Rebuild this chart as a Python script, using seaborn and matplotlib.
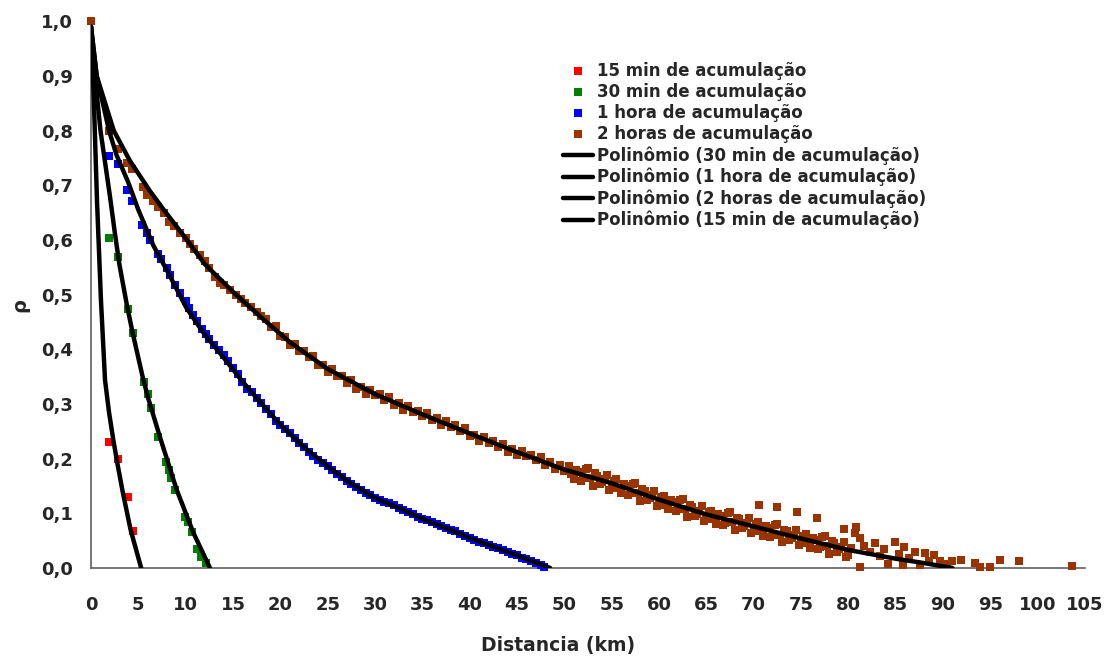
import numpy as np
import pandas as pd
import seaborn as sns
import matplotlib
matplotlib.use("Agg")
import matplotlib.pyplot as plt
from matplotlib.ticker import FuncFormatter
from matplotlib.lines import Line2D

# ---------------- data ----------------
x_15min = [0.0, 1.85, 2.8, 3.95, 4.4]
y_15min = [1.0, 0.231, 0.199, 0.129, 0.067]

x_30min = [0.0, 1.9, 2.8, 3.9, 4.4, 5.6, 6.05, 6.3, 7.1, 7.9, 8.2, 8.5, 8.9,
           9.9, 10.2, 10.7, 11.2, 11.6, 12.1]
y_30min = [1.0, 0.603, 0.569, 0.474, 0.430, 0.341, 0.319, 0.292, 0.240, 0.194,
           0.179, 0.164, 0.143, 0.094, 0.085, 0.065, 0.034, 0.021, 0.009]

x_1h = [0.0, 1.9, 2.8, 3.8, 4.3, 5.4, 5.9, 6.2, 7.1, 7.4, 8.0, 8.3, 8.9, 9.4,
        10.0, 10.4, 10.8, 11.2, 11.7, 12.1, 12.5, 13.0,
        13.5, 14.0, 14.5, 15.0, 15.5, 16.0, 16.5, 17.0, 17.5, 18.0, 18.5, 19.0,
        19.5, 20.0, 20.5, 21.0, 21.5, 22.0, 22.5, 23.0, 23.5, 24.0, 24.5, 25.0,
        25.5, 26.0, 26.5, 27.0, 27.5, 28.0, 28.5, 29.0, 29.5, 30.0, 30.5, 31.0,
        31.5, 32.0, 32.5, 33.0, 33.5, 34.0, 34.5, 35.0, 35.5, 36.0, 36.5, 37.0,
        37.5, 38.0, 38.5, 39.0, 39.5, 40.0, 40.5, 41.0, 41.5, 42.0, 42.5, 43.0,
        43.5, 44.0, 44.5, 45.0, 45.5, 46.0, 46.5, 47.0, 47.5, 47.9]
y_1h = [1.0, 0.754, 0.738, 0.691, 0.672, 0.628, 0.612, 0.600, 0.574, 0.566,
        0.549, 0.536, 0.518, 0.503, 0.488, 0.476, 0.462, 0.452, 0.437, 0.428,
        0.418, 0.408,
        0.398, 0.389, 0.378, 0.366, 0.354, 0.341, 0.328, 0.321, 0.311, 0.301,
        0.291, 0.281, 0.269, 0.262, 0.255, 0.246, 0.238, 0.229, 0.221, 0.212,
        0.205, 0.198, 0.192, 0.186, 0.179, 0.172, 0.167, 0.160, 0.154, 0.148,
        0.142, 0.137, 0.133, 0.128, 0.125, 0.121, 0.119, 0.115, 0.110, 0.106,
        0.102, 0.098, 0.094, 0.090, 0.087, 0.084, 0.081, 0.077, 0.073, 0.070,
        0.067, 0.063, 0.059, 0.055, 0.052, 0.048, 0.045, 0.042, 0.039, 0.036,
        0.033, 0.029, 0.026, 0.023, 0.019, 0.016, 0.013, 0.010, 0.006, 0.002]

x_2h = [0.0, 1.9, 2.8, 3.8, 4.3, 5.45, 5.9, 6.6, 7.1, 7.7, 8.2, 8.8, 9.4, 10.0,
        10.5, 10.9, 11.5, 12.0, 12.5, 13.1, 13.6, 14.1, 14.7, 15.3, 15.8, 16.3,
        16.9, 17.5, 18.0,
        18.5, 19.0, 19.5, 20.0, 20.5, 21.0, 21.5, 22.0, 22.5, 23.0, 23.5, 24.0,
        24.5, 25.0, 25.5, 26.0, 26.5, 27.0, 27.5, 28.0, 28.5, 29.0, 29.5, 30.0,
        30.5, 31.0, 31.5, 32.0, 32.5, 33.0, 33.5, 34.0, 34.5, 35.0, 35.5, 36.0,
        36.5, 37.0, 37.5, 38.0, 38.5, 39.0, 39.5, 40.0, 40.5, 41.0, 41.5, 42.0,
        42.5, 43.0, 43.5, 44.0, 44.5, 45.0, 45.5, 46.0, 46.5, 47.0, 47.5, 48.0,
        48.5, 49.0, 49.5, 50.0,
        50.5, 51.0, 51.5, 52.0, 52.5, 53.0, 53.5, 54.0, 54.5, 55.0, 55.5, 56.0,
        56.5, 57.0, 57.5, 58.0, 58.5, 59.0, 59.5, 60.0, 60.5, 61.0, 61.5, 62.0,
        62.5, 63.0, 63.5, 64.0, 64.5, 65.0, 65.5, 66.0, 66.5, 67.0, 67.5, 68.0,
        68.5, 69.0, 69.5, 70.0, 70.5, 71.0, 71.5, 72.0, 72.5, 73.0, 73.5, 74.0,
        74.5, 75.0, 75.5, 76.0, 76.5, 77.0, 77.5, 78.0, 78.5, 79.0, 79.5, 80.0,
        50.75, 51.25, 51.75, 52.25, 52.75, 53.25, 53.75, 54.25, 54.75, 55.25,
        55.75, 56.25, 56.75, 57.25, 57.75, 58.25, 58.75, 59.25, 59.75, 60.25,
        60.75, 61.25, 61.75, 62.25, 62.75, 63.25, 63.75, 64.25, 64.75, 65.25,
        65.75, 66.25, 66.75, 67.25, 67.75, 68.25, 68.75, 69.25, 69.75, 70.25,
        70.75, 71.25, 71.75, 72.25, 72.75, 73.25, 73.75, 74.25, 74.75, 75.25,
        75.75, 76.25, 76.75, 77.25, 77.75, 78.25, 78.75, 79.25, 79.75, 80.25,
        70.6, 72.5, 74.6, 76.7, 80.8, 79.5, 81.2, 80.7,
        81.2, 81.7, 82.3, 82.8, 83.3, 83.8, 84.2, 84.9, 85.3, 85.8, 85.9, 86.4,
        87.0, 87.6, 88.1, 88.5, 89.0, 89.7, 90.4, 90.9, 91.9, 93.4, 93.9, 95.0,
        96.0, 98.0, 103.6]
y_2h = [1.000, 0.800, 0.767, 0.740, 0.729, 0.697, 0.683, 0.672, 0.661, 0.650,
        0.633, 0.625, 0.613, 0.603, 0.592, 0.584, 0.572, 0.561, 0.548, 0.533,
        0.521, 0.517, 0.508, 0.500, 0.492, 0.485, 0.477, 0.469, 0.460,
        0.456, 0.441, 0.443, 0.425, 0.423, 0.407, 0.410, 0.397, 0.397, 0.385,
        0.388, 0.371, 0.372, 0.358, 0.364, 0.351, 0.351, 0.339, 0.343, 0.328,
        0.331, 0.319, 0.326, 0.316, 0.318, 0.307, 0.313, 0.298, 0.301, 0.289,
        0.296, 0.285, 0.288, 0.278, 0.284, 0.270, 0.274, 0.262, 0.269, 0.258,
        0.261, 0.250, 0.256, 0.241, 0.244, 0.233, 0.240, 0.229, 0.232, 0.221,
        0.227, 0.213, 0.217, 0.206, 0.214, 0.204, 0.207, 0.197, 0.203, 0.189,
        0.193, 0.181, 0.189, 0.178,
        0.187, 0.163, 0.176, 0.164, 0.183, 0.150, 0.169, 0.157, 0.170, 0.146,
        0.162, 0.137, 0.150, 0.137, 0.156, 0.122, 0.141, 0.128, 0.141, 0.116,
        0.132, 0.107, 0.120, 0.107, 0.126, 0.093, 0.112, 0.099, 0.113, 0.089,
        0.105, 0.081, 0.095, 0.083, 0.103, 0.069, 0.089, 0.077, 0.091, 0.067,
        0.084, 0.059, 0.073, 0.061, 0.080, 0.047, 0.067, 0.055, 0.069, 0.045,
        0.062, 0.037, 0.051, 0.039, 0.059, 0.026, 0.046, 0.034, 0.048, 0.024,
        0.171, 0.180, 0.160, 0.181, 0.164, 0.173, 0.153, 0.162, 0.143, 0.159,
        0.146, 0.154, 0.134, 0.154, 0.137, 0.145, 0.125, 0.133, 0.114, 0.129,
        0.116, 0.124, 0.104, 0.124, 0.107, 0.116, 0.096, 0.104, 0.086, 0.102,
        0.089, 0.098, 0.079, 0.100, 0.084, 0.092, 0.073, 0.082, 0.064, 0.080,
        0.068, 0.076, 0.057, 0.078, 0.061, 0.070, 0.051, 0.060, 0.042, 0.058,
        0.046, 0.054, 0.035, 0.056, 0.040, 0.049, 0.030, 0.039, 0.021, 0.037,
        0.115, 0.111, 0.102, 0.091, 0.075, 0.072, 0.002, 0.064,
        0.054, 0.040, 0.030, 0.045, 0.022, 0.035, 0.008, 0.048, 0.025, 0.006,
        0.039, 0.018, 0.030, 0.006, 0.027, 0.012, 0.024, 0.012, 0.008, 0.012,
        0.015, 0.009, 0.002, 0.002, 0.015, 0.012, 0.004]

# polynomial trend lines as drawn in the reference
tx_15min = [0.0, 0.3, 0.63, 1.05, 1.48, 1.9, 2.35, 2.8, 3.34, 4.18, 5.3]
ty_15min = [0.99, 0.856, 0.673, 0.49, 0.344, 0.285, 0.235, 0.19, 0.14, 0.07, 0.0]

tx_30min = [0.0, 0.5, 1.0, 2.0, 2.5, 3.0, 3.8, 4.4, 5.45, 6.05, 7.29, 9.05,
            10.8, 12.57]
ty_30min = [0.99, 0.885, 0.80, 0.68, 0.615, 0.555, 0.48, 0.43, 0.35, 0.31,
            0.239, 0.143, 0.065, 0.0]

tx_1h = [0.0, 0.6, 1.9, 2.7, 3.94, 5.0, 6.58, 8.0, 10.1, 12.0, 14.0, 16.0,
         18.0, 20.0, 22.5, 25.0, 27.5, 30.0, 32.5, 35.0, 37.5, 40.0, 42.5,
         45.0, 47.0, 48.5]
ty_1h = [0.99, 0.90, 0.80, 0.755, 0.705, 0.655, 0.59, 0.545, 0.475, 0.427,
         0.385, 0.341, 0.301, 0.262, 0.221, 0.186, 0.154, 0.128, 0.11, 0.09,
         0.073, 0.055, 0.039, 0.023, 0.01, 0.0]

tx_2h = [0.0, 0.6, 2.4, 4.1, 6.2, 7.6, 10.0, 12.0, 15.0, 18.0, 21.0, 25.0,
         30.0, 35.0, 40.0, 45.0, 50.0, 55.0, 60.0, 65.0, 70.0, 75.0, 80.0,
         85.0, 88.0, 91.0]
ty_2h = [0.99, 0.90, 0.80, 0.745, 0.69, 0.657, 0.603, 0.556, 0.505, 0.458,
         0.413, 0.364, 0.318, 0.281, 0.246, 0.212, 0.180, 0.155, 0.125, 0.098,
         0.076, 0.054, 0.033, 0.017, 0.009, 0.0]

series_names = ["15 min de acumulação", "30 min de acumulação",
                "1 hora de acumulação", "2 horas de acumulação"]
series_x = [x_15min, x_30min, x_1h, x_2h]
series_y = [y_15min, y_30min, y_1h, y_2h]
trend_x = [tx_15min, tx_30min, tx_1h, tx_2h]
trend_y = [ty_15min, ty_30min, ty_1h, ty_2h]
series_colors = ["#FF0000", "#008000", "#0000FF", "#993300"]
trend_order = [1, 2, 3, 0]  # legend order of the trend lines

x_ticks = list(range(0, 106, 5))
y_ticks = [0.0, 0.1, 0.2, 0.3, 0.4, 0.5, 0.6, 0.7, 0.8, 0.9, 1.0]

# ---------------- plotting ----------------
sns.set_theme(style="white")
plt.rcParams['font.family'] = ['DejaVu Sans']
plt.rcParams['font.weight'] = 'bold'

fig, ax = plt.subplots(figsize=(11.18, 6.62), dpi=100)
fig.subplots_adjust(left=0.0814, right=0.9705, bottom=0.142, top=0.968)

for name, xs, ys, col in zip(series_names, series_x, series_y, series_colors):
    assert len(xs) == len(ys), name
    df = pd.DataFrame({"x": xs, "y": ys})
    sns.scatterplot(data=df, x="x", y="y", color=col, marker="s", s=36,
                    linewidth=0, ax=ax, zorder=3, clip_on=False, legend=False)

for name, txs, tys in zip(series_names, trend_x, trend_y):
    assert len(txs) == len(tys), name
    tdf = pd.DataFrame({"x": txs, "y": tys})
    sns.lineplot(data=tdf, x="x", y="y", color="black", linewidth=3.2,
                 ax=ax, zorder=4, sort=False, estimator=None, legend=False,
                 solid_joinstyle="round", solid_capstyle="round")

ax.set_xlim(0, 105)
ax.set_ylim(0, 1.0)
ax.set_xticks(x_ticks)
ax.set_yticks(y_ticks)
ax.yaxis.set_major_formatter(FuncFormatter(lambda v, _: f"{v:.1f}".replace(".", ",")))
ax.tick_params(axis="both", direction="out", length=5, width=1, color="#606060",
               labelsize=13)
ax.tick_params(axis="x", pad=15)
ax.tick_params(axis="y", pad=8)
for lab in ax.get_xticklabels() + ax.get_yticklabels():
    lab.set_fontweight("bold")
for side in ["top", "right"]:
    ax.spines[side].set_visible(False)
for side in ["left", "bottom"]:
    ax.spines[side].set_color("#606060")
    ax.spines[side].set_linewidth(1.2)
ax.grid(False)

ax.set_xlabel("Distancia (km)", fontsize=13.5, fontweight="bold")
ax.set_ylabel("ρ", fontsize=14, fontweight="bold")
ax.xaxis.set_label_coords((558 - 91) / 994, (568 - 636) / 547)
ax.yaxis.set_label_coords((29 - 91) / 994, (568 - 305) / 547)

# legend
handles, labels = [], []
for name, col in zip(series_names, series_colors):
    handles.append(Line2D([], [], linestyle="none", marker="s", markersize=6,
                          markerfacecolor=col, markeredgewidth=0))
    labels.append(name)
for idx in trend_order:
    handles.append(Line2D([], [], color="black", linewidth=3.2))
    labels.append(f"Polinômio ({series_names[idx]})")
leg = ax.legend(handles, labels, loc="upper left",
                bbox_to_anchor=(555 / 1118, 1 - 54 / 662),
                bbox_transform=fig.transFigure, frameon=False,
                prop=dict(weight="bold", size=12), handlelength=1.8,
                handletextpad=0.2, labelspacing=0.18, borderpad=0)

fig.savefig("out.png", dpi=100)
